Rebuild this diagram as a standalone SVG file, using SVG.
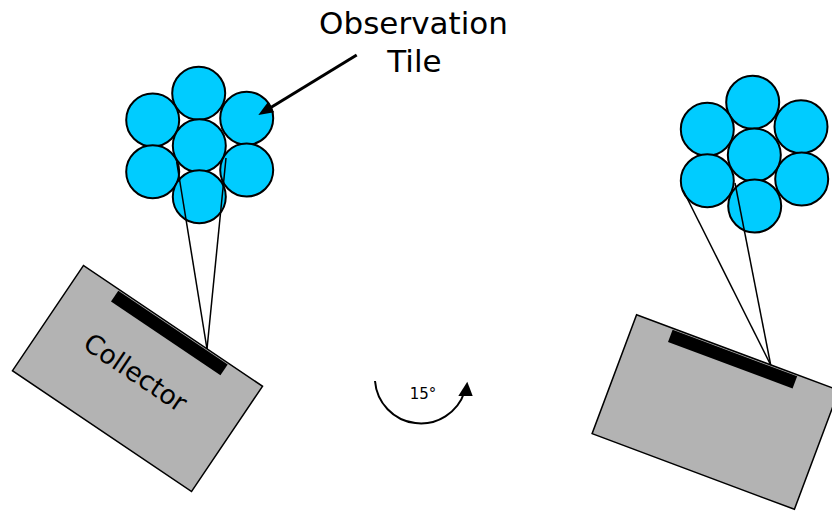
<svg xmlns="http://www.w3.org/2000/svg" width="832" height="511" viewBox="0 0 832 511">
<style>
  .body { fill: #b3b3b3; stroke: #000; stroke-width: 1.5; }
  .bar { fill: #000; stroke: none; }
  .tile { fill: #00ccff; stroke: #000; stroke-width: 2; }
  .ray { stroke: #000; stroke-width: 1.5; fill: none; }
  .txt { font-family: "DejaVu Sans", Verdana, sans-serif; fill: #000; }
</style>
<rect width="832" height="511" fill="#fff"/>

<g id="collector-left" transform="translate(137.5,378.5) rotate(34)">
  <rect class="body" x="-108" y="-63.5" width="216" height="127"/>
  <rect class="bar" x="-65" y="-62" width="132" height="13"/>
  <text class="txt" x="-5" y="5.5" font-size="26.5" text-anchor="middle">Collector</text>
</g>

<g id="collector-right" transform="translate(715.5,412) rotate(20.5)">
  <rect class="body" x="-108" y="-63.5" width="216" height="127"/>
  <rect class="bar" x="-69" y="-62" width="133" height="13"/>
</g>

<g id="tile-left">
  <circle class="tile" cx="198.7" cy="93.3" r="26.5"/>
  <circle class="tile" cx="152.7" cy="120" r="26.5"/>
  <circle class="tile" cx="246.7" cy="118.3" r="26.5"/>
  <circle class="tile" cx="152.7" cy="171.7" r="26.5"/>
  <circle class="tile" cx="246.7" cy="170" r="26.5"/>
  <circle class="tile" cx="199.3" cy="145.7" r="26.5"/>
  <circle class="tile" cx="199.3" cy="196.7" r="26.5"/>
</g>

<g id="tile-right">
  <circle class="tile" cx="752.7" cy="102.3" r="26.5"/>
  <circle class="tile" cx="707.3" cy="129.3" r="26.5"/>
  <circle class="tile" cx="801" cy="126.7" r="26.5"/>
  <circle class="tile" cx="707.3" cy="180.7" r="26.5"/>
  <circle class="tile" cx="801.7" cy="179" r="26.5"/>
  <circle class="tile" cx="754.3" cy="155" r="26.5"/>
  <circle class="tile" cx="754.7" cy="206" r="26.5"/>
</g>

<g id="label-observation">
  <text class="txt" x="413.5" y="34.3" font-size="31" text-anchor="middle">Observation</text>
  <text class="txt" x="414.5" y="71.7" font-size="31" text-anchor="middle">Tile</text>
</g>

<g id="label-rotation">
  <text class="txt" x="423" y="399" font-size="15" text-anchor="middle">15°</text>
</g>

<g id="connectors">
  <line class="ray" x1="176.7" y1="162" x2="207" y2="349"/>
  <line class="ray" x1="226" y1="158" x2="207" y2="349"/>
  <line class="ray" x1="683" y1="190" x2="770.7" y2="365"/>
  <line class="ray" x1="735" y1="183" x2="770.7" y2="365"/>
  <line x1="356.7" y1="55" x2="270" y2="108" stroke="#000" stroke-width="3"/>
  <polygon points="258.3,115 274.2,112.3 268,102.1" fill="#000"/>
  <path d="M375,381 A46,46 0 0,0 464.5,392" fill="none" stroke="#000" stroke-width="2"/>
  <polygon points="467.3,381.7 458.3,396 472.7,396" fill="#000"/>
</g>
</svg>
